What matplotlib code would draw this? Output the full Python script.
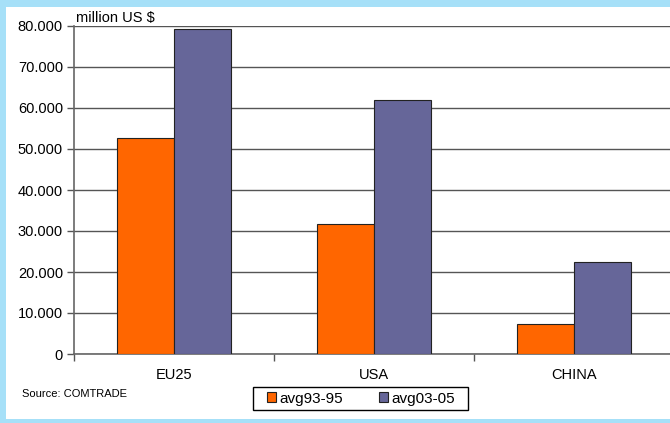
import numpy as np
import matplotlib.pyplot as plt
from matplotlib.patches import Rectangle
from matplotlib.ticker import FuncFormatter

plt.rcParams['font.family'] = ['Liberation Sans', 'DejaVu Sans']

regions = ['EU25', 'USA', 'CHINA']
avg93_95 = [52600, 31600, 7200]
avg03_05 = [79200, 61900, 22400]
series_names = ['avg93-95', 'avg03-05']
colors = ['#FF6600', '#666699']

W, H = 670, 423
fig = plt.figure(figsize=(W / 100, H / 100), dpi=100)
fig.patch.set_facecolor('#A6E0F8')
# white panel inside the blue frame
fig.patches.append(Rectangle((6 / W, 4 / H), 1 - 6 / W, (419 - 7) / H,
                             transform=fig.transFigure, facecolor='white',
                             edgecolor='none', zorder=-10))

ax = fig.add_axes([74 / W, (H - 354) / H, 600 / W, (354 - 26) / H])
ax.set_facecolor('white')

x = np.arange(len(regions))
bw = 0.285
ax.bar(x - bw / 2, avg93_95, bw, color=colors[0], edgecolor='#222222',
       linewidth=0.8, label=series_names[0], zorder=3)
ax.bar(x + bw / 2, avg03_05, bw, color=colors[1], edgecolor='#222222',
       linewidth=0.8, label=series_names[1], zorder=3)

ax.set_xlim(-0.5, len(regions) - 0.5)
ax.set_ylim(0, 80000)
ax.set_yticks(np.arange(0, 80001, 10000))
ax.yaxis.set_major_formatter(FuncFormatter(lambda v, p: f'{int(v):,}'.replace(',', '.')))
ax.yaxis.grid(True, color='#555555', linewidth=1.0, zorder=1)

ax.set_xticks(x)
ax.set_xticklabels(regions)
ax.set_xticks(np.arange(-0.5, len(regions)), minor=True)
ax.tick_params(axis='x', which='major', length=0, pad=10, labelsize=10.5)
ax.tick_params(axis='x', which='minor', length=5, color='#555555', width=1)
ax.tick_params(axis='y', length=5, color='#555555', width=1, labelsize=10.5, pad=3)

for side in ['top', 'right']:
    ax.spines[side].set_visible(False)
for side in ['left', 'bottom']:
    ax.spines[side].set_color('#666666')
    ax.spines[side].set_linewidth(1.2)

fig.text(76 / W, 1 - 18 / H, 'million US $', fontsize=10.5, va='center', ha='left')
fig.text(22 / W, 1 - 394 / H, 'Source: COMTRADE', fontsize=8, va='center', ha='left')

# legend box drawn separately so it can be wider than its entries
fig.patches.append(Rectangle((253 / W, 1 - 410 / H), 215 / W, 23 / H,
                             transform=fig.transFigure, facecolor='white',
                             edgecolor='black', linewidth=1.0, zorder=-5))
leg = ax.legend(loc='center', bbox_to_anchor=(361 / W, 1 - 398.5 / H),
                bbox_transform=fig.transFigure, ncol=2, frameon=False,
                fontsize=11, handlelength=0.6, handleheight=0.6,
                handletextpad=0.25, columnspacing=2.3, borderpad=0.2)
for h in leg.legend_handles:
    h.set_linewidth(0.8)

fig.savefig('out.png', dpi=100)
